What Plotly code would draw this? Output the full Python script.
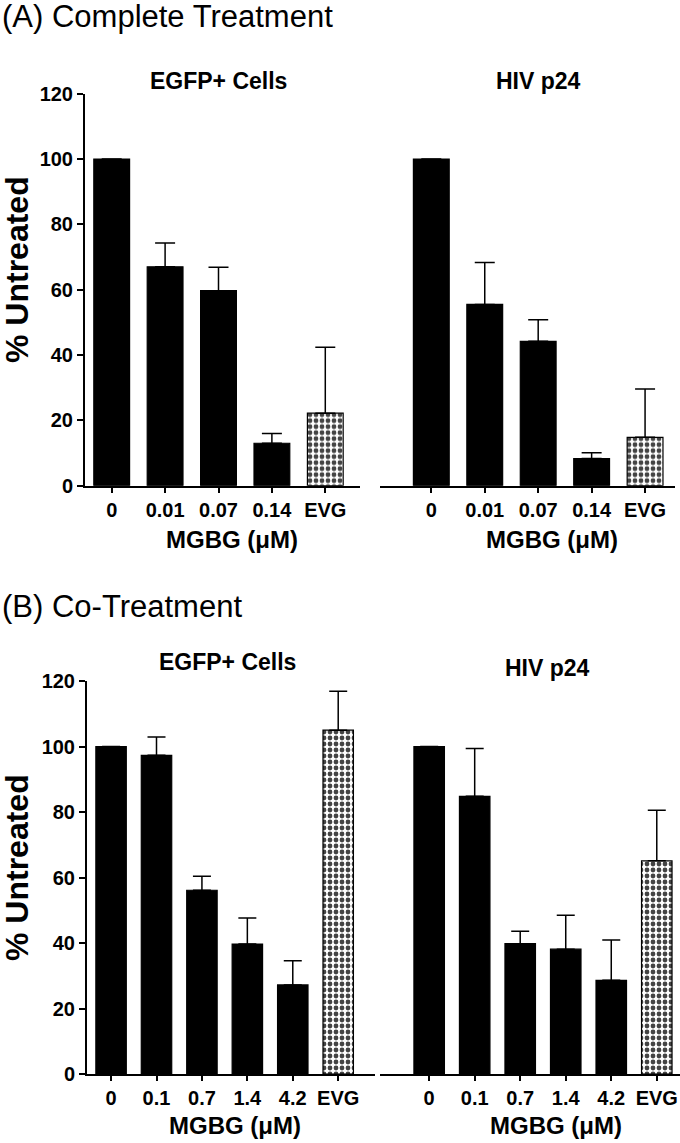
import plotly.graph_objects as go

W, H = 680, 1143

# --- data ---
doses_a = ["0", "0.01", "0.07", "0.14", "EVG"]
egfp_a = [100, 67.0, 59.7, 13.0, 22.2]
egfp_a_err = [0, 7.3, 7.2, 3.0, 20.2]
p24_a = [100, 55.5, 44.2, 8.3, 14.8]
p24_a_err = [0, 12.8, 6.6, 1.8, 14.8]

doses_b = ["0", "0.1", "0.7", "1.4", "4.2", "EVG"]
egfp_b = [100, 97.3, 56.1, 39.7, 27.2, 105.0]
egfp_b_err = [0, 5.6, 4.3, 7.9, 7.4, 11.9]
p24_b = [100, 84.8, 39.8, 38.1, 28.6, 65.1]
p24_b_err = [0, 14.6, 3.8, 10.4, 12.3, 15.4]

y_ticks = [0, 20, 40, 60, 80, 100, 120]

FONT = "Arial, Liberation Sans, sans-serif"


def px(x):
    return x / W


def py(y):
    return 1 - y / H


def bar_trace(cats, vals, errs, xaxis, yaxis, cap):
    is_evg = [c == "EVG" for c in cats]
    return go.Bar(
        x=cats, y=vals,
        xaxis=xaxis, yaxis=yaxis,
        marker=dict(
            color=["white" if e else "black" for e in is_evg],
            line=dict(color="black", width=1.2),
            pattern=dict(
                shape=["." if e else "" for e in is_evg],
                fillmode="overlay", fgcolor="black", fgopacity=1,
                size=6, solidity=0.5,
            ),
        ),
        error_y=dict(
            type="data", symmetric=False,
            array=errs, arrayminus=[0] * len(errs),
            color="black", thickness=1.5, width=cap,
        ),
        showlegend=False,
    )


fig = go.Figure()
fig.add_trace(bar_trace(doses_a, egfp_a, egfp_a_err, "x", "y", 10))
fig.add_trace(bar_trace(doses_a, p24_a, p24_a_err, "x2", "y", 10))
fig.add_trace(bar_trace(doses_b, egfp_b, egfp_b_err, "x3", "y2", 9))
fig.add_trace(bar_trace(doses_b, p24_b, p24_b_err, "x4", "y2", 9))

tickfont = dict(family=FONT, size=20, color="black", weight="bold")

xcommon = dict(
    type="category", showline=True, linewidth=2, linecolor="black",
    ticks="outside", ticklen=5, tickwidth=2, tickcolor="black",
    showgrid=False, zeroline=False, tickfont=tickfont,
    ticklabeloverflow="allow", automargin=False,
)
ycommon = dict(
    range=[0, 120], tickvals=y_ticks, showline=True, linewidth=2,
    linecolor="black", ticks="outside", ticklen=6, tickwidth=2,
    tickcolor="black", showgrid=False, zeroline=False, tickfont=tickfont,
    automargin=False,
)

fig.update_layout(
    template="none",
    width=W, height=H,
    margin=dict(l=0, r=0, t=0, b=0, pad=0),
    paper_bgcolor="white", plot_bgcolor="white",
    bargap=0.33,
    xaxis=dict(xcommon, domain=[px(85), px(360)], range=[-0.5, 4.65], anchor="y"),
    xaxis2=dict(xcommon, domain=[px(380), px(675)], range=[-0.96, 4.56], anchor="y"),
    xaxis3=dict(xcommon, domain=[px(87), px(375)], range=[-0.53, 5.81], anchor="y2"),
    xaxis4=dict(xcommon, domain=[px(380), px(680)], range=[-1.08, 5.51], anchor="y2"),
    yaxis=dict(ycommon, domain=[py(485.7), py(93.7)], anchor="x"),
    yaxis2=dict(ycommon, domain=[py(1074), py(681)], anchor="x3"),
)


def label(text, x, y, size, bold=False, angle=0, xanchor="center"):
    fig.add_annotation(
        text=text, x=px(x), y=py(y), xref="paper", yref="paper",
        xanchor=xanchor, yanchor="middle", showarrow=False, textangle=angle,
        font=dict(family=FONT, size=size, color="black",
                  weight="bold" if bold else "normal"),
    )


# panel titles
label("(A) Complete Treatment", 0, 17, 31, xanchor="left")
label("(B) Co-Treatment", 0, 606, 31, xanchor="left")

# group titles
label("EGFP+ Cells", 218, 81, 23, bold=True)
label("HIV p24", 538, 81, 23, bold=True)
label("EGFP+ Cells", 227, 662, 23, bold=True)
label("HIV p24", 547, 668, 23, bold=True)

# axis titles
label("MGBG (μM)", 232, 539, 24, bold=True)
label("MGBG (μM)", 552, 539, 24, bold=True)
label("MGBG (μM)", 235, 1125, 24, bold=True)
label("MGBG (μM)", 556, 1125, 24, bold=True)
label("% Untreated", 17, 270, 32, bold=True, angle=-90)
label("% Untreated", 17, 868, 32, bold=True, angle=-90)

fig.write_html(
    "out.html",
    config={"displayModeBar": False},
    post_script=(
        "document.body.style.margin='0';"
        "document.body.style.overflow='hidden';"
        "document.documentElement.style.overflow='hidden';"
    ),
)
